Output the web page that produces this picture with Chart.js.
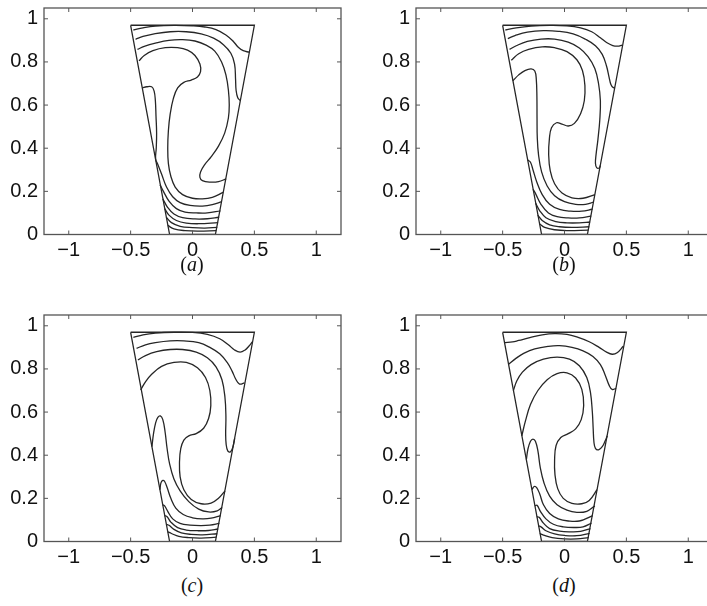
<!DOCTYPE html>
<html><head><meta charset="utf-8">
<script src="https://cdn.jsdelivr.net/npm/chart.js@4.4.1/dist/chart.umd.min.js"></script>
<style>
html,body{margin:0;padding:0;background:#fff;overflow:hidden;}
#wrap{position:relative;width:707px;height:606px;overflow:hidden;background:#fff;}
#wrap canvas{position:absolute;}
.lab{position:absolute;width:80px;text-align:center;font-family:"Liberation Serif","DejaVu Serif",serif;font-size:20px;color:#111;line-height:24px;}
</style></head><body>
<div id="wrap">
<canvas id="ca" width="354" height="260" style="left:0px;top:0px"></canvas>
<canvas id="cb" width="354" height="260" style="left:372px;top:0px"></canvas>
<canvas id="cc" width="354" height="260" style="left:0px;top:307px"></canvas>
<canvas id="cd" width="354" height="260" style="left:372px;top:307px"></canvas>
<div class="lab" style="left:152px;top:252px">(<i>a</i>)</div>
<div class="lab" style="left:524px;top:252px">(<i>b</i>)</div>
<div class="lab" style="left:152px;top:573px">(<i>c</i>)</div>
<div class="lab" style="left:524px;top:573px">(<i>d</i>)</div>
</div>
<script>
// ---- axes ----
const X_TICKS = [-1, -0.5, 0, 0.5, 1];
const Y_TICKS = [0, 0.2, 0.4, 0.6, 0.8, 1];
const X_RANGE = [-1.2, 1.2];
const Y_RANGE = [0, 1.05];
// ---- domain outline (trapezoid) ----
const TRAP = [[-0.5,0.97],[0.5,0.97],[0.185,0],[-0.185,0],[-0.5,0.97]];

// ---- panel (a) contour lines ----
const A_CURVES = [
 [[-0.478,0.948],[-0.40,0.958],[-0.30,0.966],[-0.15,0.969],[0.0,0.967],[0.1,0.962],[0.19,0.95],[0.27,0.925],[0.33,0.895],[0.37,0.868],[0.41,0.852],[0.458,0.845]],
 [[-0.46,0.905],[-0.40,0.918],[-0.31,0.93],[-0.18,0.94],[-0.05,0.94],[0.07,0.93],[0.17,0.91],[0.25,0.88],[0.31,0.84],[0.34,0.79],[0.348,0.72],[0.352,0.67],[0.365,0.635],[0.387,0.62]],
 [[-0.445,0.858],[-0.39,0.872],[-0.30,0.887],[-0.19,0.9],[-0.08,0.903],[0.02,0.897],[0.11,0.878],[0.18,0.85],[0.235,0.8],[0.27,0.74],[0.29,0.67],[0.297,0.6],[0.29,0.54],[0.26,0.47],[0.21,0.41],[0.15,0.36],[0.1,0.325],[0.065,0.29],[0.06,0.265],[0.08,0.25],[0.14,0.243],[0.21,0.245],[0.272,0.258]],
 [[-0.432,0.805],[-0.39,0.83],[-0.32,0.852],[-0.22,0.866],[-0.12,0.866],[-0.04,0.855],[0.02,0.83],[0.06,0.79],[0.065,0.755],[0.04,0.73],[-0.01,0.716],[-0.07,0.705],[-0.12,0.68],[-0.155,0.63],[-0.18,0.56],[-0.195,0.48],[-0.2,0.4],[-0.195,0.33],[-0.175,0.27],[-0.14,0.22],[-0.08,0.185],[0.0,0.168],[0.08,0.165],[0.16,0.172],[0.248,0.195]],
 [[-0.405,0.68],[-0.37,0.685],[-0.33,0.685],[-0.31,0.665],[-0.3,0.62],[-0.295,0.55],[-0.29,0.47],[-0.293,0.4],[-0.298,0.35],[-0.28,0.325],[-0.25,0.28],[-0.21,0.22],[-0.16,0.175],[-0.1,0.148],[-0.02,0.135],[0.08,0.132],[0.16,0.138],[0.237,0.152]],
 [[-0.262,0.23],[-0.235,0.2],[-0.19,0.155],[-0.13,0.12],[-0.06,0.104],[0.03,0.1],[0.12,0.1],[0.226,0.11]],
 [[-0.24,0.165],[-0.2,0.125],[-0.15,0.095],[-0.08,0.078],[0.02,0.072],[0.12,0.073],[0.215,0.08]],
 [[-0.225,0.12],[-0.19,0.09],[-0.13,0.065],[-0.05,0.053],[0.05,0.05],[0.207,0.055]],
 [[-0.212,0.08],[-0.17,0.055],[-0.1,0.038],[0.0,0.032],[0.1,0.03],[0.2,0.033]],
 [[-0.2,0.042],[-0.15,0.026],[-0.06,0.018],[0.05,0.016],[0.193,0.018]]
];
// ---- panel (b) contour lines ----
const B_CURVES = [
 [[-0.478,0.948],[-0.39,0.958],[-0.27,0.966],[-0.12,0.969],[0.02,0.967],[0.13,0.958],[0.22,0.94],[0.29,0.912],[0.34,0.89],[0.39,0.876],[0.43,0.873],[0.466,0.878]],
 [[-0.458,0.908],[-0.4,0.922],[-0.3,0.938],[-0.17,0.945],[-0.05,0.942],[0.07,0.93],[0.17,0.905],[0.25,0.875],[0.305,0.835],[0.34,0.78],[0.36,0.73],[0.375,0.695],[0.395,0.68],[0.405,0.684]],
 [[-0.444,0.858],[-0.39,0.875],[-0.3,0.895],[-0.19,0.906],[-0.08,0.906],[0.03,0.892],[0.12,0.865],[0.19,0.825],[0.245,0.77],[0.275,0.7],[0.29,0.62],[0.285,0.53],[0.27,0.44],[0.255,0.37],[0.25,0.33],[0.26,0.31],[0.28,0.308],[0.29,0.32]],
 [[-0.43,0.808],[-0.37,0.838],[-0.29,0.858],[-0.18,0.87],[-0.08,0.866],[0.02,0.848],[0.1,0.81],[0.145,0.76],[0.165,0.69],[0.16,0.62],[0.13,0.56],[0.08,0.515],[0.03,0.503],[-0.02,0.512],[-0.065,0.518],[-0.105,0.495],[-0.122,0.445],[-0.128,0.37],[-0.115,0.295],[-0.08,0.235],[-0.02,0.192],[0.06,0.17],[0.15,0.168],[0.245,0.185]],
 [[-0.418,0.712],[-0.37,0.74],[-0.32,0.76],[-0.27,0.768],[-0.24,0.758],[-0.228,0.72],[-0.223,0.64],[-0.222,0.54],[-0.22,0.45],[-0.21,0.37],[-0.185,0.29],[-0.14,0.225],[-0.08,0.18],[0.0,0.152],[0.09,0.14],[0.17,0.14],[0.234,0.15]],
 [[-0.298,0.345],[-0.275,0.335],[-0.255,0.3],[-0.225,0.245],[-0.18,0.185],[-0.12,0.14],[-0.04,0.116],[0.05,0.108],[0.14,0.108],[0.226,0.117]],
 [[-0.254,0.21],[-0.23,0.185],[-0.19,0.14],[-0.13,0.1],[-0.06,0.083],[0.03,0.077],[0.12,0.077],[0.216,0.085]],
 [[-0.233,0.145],[-0.2,0.11],[-0.15,0.078],[-0.07,0.06],[0.02,0.054],[0.12,0.054],[0.207,0.058]],
 [[-0.216,0.09],[-0.18,0.065],[-0.12,0.045],[-0.04,0.036],[0.06,0.033],[0.2,0.036]],
 [[-0.202,0.05],[-0.16,0.033],[-0.08,0.022],[0.02,0.018],[0.193,0.02]]
];
// ---- panel (c) contour lines ----
const C_CURVES = [
 [[-0.478,0.946],[-0.4,0.958],[-0.3,0.966],[-0.15,0.97],[0.0,0.969],[0.12,0.96],[0.22,0.94],[0.29,0.912],[0.34,0.888],[0.385,0.878],[0.425,0.888],[0.455,0.905],[0.483,0.925]],
 [[-0.452,0.895],[-0.38,0.912],[-0.3,0.922],[-0.18,0.93],[-0.07,0.93],[0.05,0.922],[0.14,0.9],[0.22,0.87],[0.28,0.83],[0.32,0.79],[0.35,0.752],[0.38,0.73],[0.42,0.735]],
 [[-0.441,0.842],[-0.38,0.862],[-0.29,0.88],[-0.18,0.89],[-0.08,0.89],[0.03,0.878],[0.12,0.852],[0.19,0.81],[0.238,0.75],[0.262,0.67],[0.27,0.58],[0.268,0.5],[0.272,0.45],[0.285,0.42],[0.305,0.415],[0.325,0.435],[0.341,0.478]],
 [[-0.419,0.703],[-0.38,0.74],[-0.33,0.775],[-0.25,0.812],[-0.15,0.83],[-0.05,0.83],[0.04,0.805],[0.105,0.76],[0.14,0.7],[0.148,0.63],[0.13,0.57],[0.09,0.525],[0.03,0.5],[-0.03,0.49],[-0.07,0.47],[-0.095,0.43],[-0.105,0.37],[-0.1,0.3],[-0.07,0.24],[-0.01,0.195],[0.07,0.175],[0.15,0.178],[0.21,0.2],[0.263,0.235]],
 [[-0.328,0.44],[-0.315,0.5],[-0.298,0.55],[-0.28,0.575],[-0.26,0.582],[-0.24,0.565],[-0.222,0.51],[-0.205,0.43],[-0.185,0.36],[-0.15,0.29],[-0.1,0.235],[-0.03,0.185],[0.05,0.15],[0.13,0.137],[0.2,0.142],[0.24,0.158]],
 [[-0.263,0.24],[-0.255,0.272],[-0.24,0.283],[-0.225,0.278],[-0.205,0.25],[-0.175,0.2],[-0.135,0.155],[-0.075,0.125],[0.0,0.11],[0.08,0.105],[0.15,0.108],[0.228,0.12]],
 [[-0.24,0.17],[-0.225,0.165],[-0.2,0.14],[-0.16,0.105],[-0.1,0.084],[-0.02,0.076],[0.07,0.074],[0.14,0.076],[0.217,0.084]],
 [[-0.225,0.12],[-0.205,0.115],[-0.175,0.09],[-0.12,0.064],[-0.05,0.053],[0.04,0.05],[0.13,0.051],[0.207,0.058]],
 [[-0.212,0.08],[-0.19,0.075],[-0.15,0.056],[-0.09,0.04],[-0.01,0.033],[0.08,0.031],[0.2,0.036]],
 [[-0.2,0.045],[-0.17,0.037],[-0.11,0.024],[-0.03,0.018],[0.07,0.016],[0.193,0.02]]
];
// ---- panel (d) contour lines ----
const D_CURVES = [
 [[-0.482,0.922],[-0.42,0.925],[-0.37,0.932],[-0.28,0.945],[-0.18,0.958],[-0.08,0.964],[0.02,0.96],[0.11,0.946],[0.2,0.926],[0.28,0.9],[0.34,0.878],[0.385,0.868],[0.425,0.875],[0.475,0.905]],
 [[-0.452,0.822],[-0.39,0.85],[-0.33,0.872],[-0.24,0.893],[-0.13,0.905],[-0.04,0.908],[0.06,0.9],[0.15,0.884],[0.23,0.858],[0.29,0.82],[0.33,0.77],[0.36,0.725],[0.385,0.705],[0.417,0.71]],
 [[-0.413,0.70],[-0.385,0.745],[-0.34,0.785],[-0.27,0.82],[-0.17,0.845],[-0.06,0.855],[0.04,0.845],[0.12,0.815],[0.18,0.76],[0.21,0.69],[0.225,0.6],[0.232,0.52],[0.238,0.46],[0.25,0.432],[0.275,0.425],[0.305,0.44],[0.33,0.468],[0.346,0.49]],
 [[-0.345,0.49],[-0.315,0.56],[-0.275,0.635],[-0.215,0.7],[-0.14,0.75],[-0.06,0.778],[0.02,0.782],[0.09,0.758],[0.14,0.705],[0.155,0.63],[0.135,0.565],[0.09,0.522],[0.03,0.5],[-0.03,0.482],[-0.068,0.445],[-0.08,0.38],[-0.077,0.31],[-0.055,0.245],[-0.01,0.2],[0.06,0.177],[0.14,0.175],[0.2,0.19],[0.263,0.24]],
 [[-0.308,0.38],[-0.295,0.43],[-0.275,0.465],[-0.255,0.475],[-0.235,0.465],[-0.215,0.42],[-0.195,0.34],[-0.165,0.27],[-0.12,0.21],[-0.06,0.17],[0.02,0.145],[0.1,0.135],[0.18,0.14],[0.245,0.165]],
 [[-0.263,0.24],[-0.245,0.255],[-0.225,0.25],[-0.2,0.22],[-0.17,0.17],[-0.12,0.13],[-0.05,0.105],[0.03,0.095],[0.12,0.095],[0.228,0.12]],
 [[-0.24,0.165],[-0.222,0.168],[-0.195,0.14],[-0.15,0.105],[-0.09,0.08],[-0.01,0.068],[0.08,0.065],[0.15,0.068],[0.218,0.085]],
 [[-0.225,0.115],[-0.205,0.112],[-0.17,0.085],[-0.12,0.06],[-0.04,0.048],[0.05,0.045],[0.13,0.047],[0.21,0.06]],
 [[-0.212,0.072],[-0.19,0.068],[-0.15,0.05],[-0.08,0.035],[0.0,0.028],[0.1,0.027],[0.203,0.038]],
 [[-0.2,0.037],[-0.17,0.03],[-0.1,0.018],[0.0,0.012],[0.1,0.012],[0.196,0.018]]
];

const LINE_COLOR = '#262626';
const AXIS_COLOR = '#555555';
const TICK_FONT = {family: '"Liberation Sans", Arial, sans-serif', size: 20};

const toPts = arr => arr.map(p => ({x: p[0], y: p[1]}));
const fmt = v => String(v).replace('-', '\u2212');

const boxPlugin = {
  id: 'matlabBox',
  afterDraw(chart) {
    const {ctx, chartArea: a, scales} = chart;
    const x = scales.x, y = scales.y;
    ctx.save();
    ctx.strokeStyle = AXIS_COLOR;
    ctx.lineWidth = 1.3;
    ctx.strokeRect(a.left, a.top, a.right - a.left, a.bottom - a.top);
    ctx.beginPath();
    X_TICKS.forEach(v => {
      const px = x.getPixelForValue(v);
      ctx.moveTo(px, a.bottom); ctx.lineTo(px, a.bottom - 4);
      ctx.moveTo(px, a.top); ctx.lineTo(px, a.top + 4);
    });
    Y_TICKS.forEach(v => {
      const py = y.getPixelForValue(v);
      ctx.moveTo(a.left, py); ctx.lineTo(a.left + 4, py);
      ctx.moveTo(a.right, py); ctx.lineTo(a.right - 4, py);
    });
    ctx.lineWidth = 1;
    ctx.stroke();
    ctx.restore();
  }
};

function makeChart(id, curves) {
  const datasets = [{data: toPts(TRAP), tension: 0, borderColor: LINE_COLOR, borderWidth: 1.3, showLine: true, pointRadius: 0}];
  curves.forEach(c => datasets.push({data: toPts(c), tension: 0.4, borderColor: LINE_COLOR, borderWidth: 1.3, showLine: true, pointRadius: 0}));
  return new Chart(document.getElementById(id), {
    type: 'scatter',
    data: {datasets},
    options: {
      responsive: false,
      animation: false,
      events: [],
      layout: {padding: {left: 0, top: 8, right: 13, bottom: 0}},
      plugins: {legend: {display: false}, tooltip: {enabled: false}},
      scales: {
        x: {
          type: 'linear', min: X_RANGE[0], max: X_RANGE[1],
          grid: {display: false, drawTicks: false}, border: {display: false},
          afterBuildTicks: s => { s.ticks = X_TICKS.map(v => ({value: v})); },
          afterFit: s => { s.height = 25.5; s.paddingLeft = 0; s.paddingRight = 0; },
          ticks: {font: TICK_FONT, color: '#111', padding: 4, maxRotation: 0, autoSkip: false, callback: v => fmt(v)}
        },
        y: {
          type: 'linear', min: Y_RANGE[0], max: Y_RANGE[1],
          grid: {display: false, drawTicks: false}, border: {display: false},
          afterBuildTicks: s => { s.ticks = Y_TICKS.map(v => ({value: v})); },
          afterFit: s => { s.width = 44; s.paddingTop = 0; s.paddingBottom = 0; },
          ticks: {font: TICK_FONT, color: '#111', padding: 6, autoSkip: false, callback: v => fmt(v)}
        }
      }
    },
    plugins: [boxPlugin]
  });
}

makeChart('ca', A_CURVES);
makeChart('cb', B_CURVES);
makeChart('cc', C_CURVES);
makeChart('cd', D_CURVES);
</script>
</body></html>
